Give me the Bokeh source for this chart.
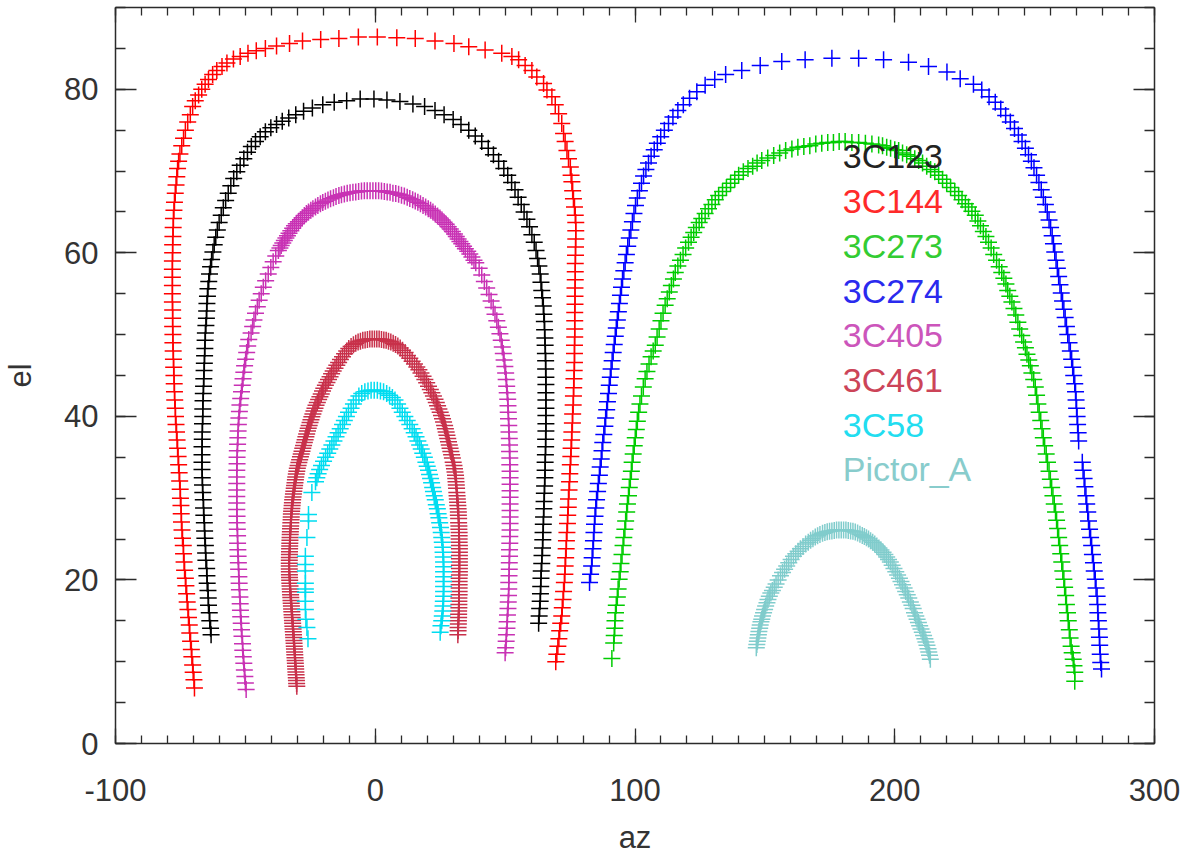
from bokeh.plotting import figure
from bokeh.models import Range1d, LinearAxis, SingleIntervalTicker, CustomJSTickFormatter
from bokeh.embed import file_html
from bokeh.resources import INLINE
from bokeh.core.properties import value

# ---------------- data (az, el) ----------------
names = ["3C123", "3C144", "3C273", "3C274", "3C405", "3C461", "3C58", "Pictor_A"]
marker_colors = ["#000000", "#ff0000", "#00cc00", "#0000ff", "#c832b4", "#c8304a", "#00dcf0", "#80cccc"]
label_colors = ["#222222", "#ff2a2a", "#33cc33", "#2a2aee", "#cc55bb", "#cc4458", "#22ddf0", "#88cccc"]

pts_3C123 = [(-63.2,13.3),(-63.4,14.1),(-63.7,15.0),(-63.9,16.0),(-64.2,16.9),(-64.3,17.8),(-64.4,18.7),(-64.7,19.6),(-64.8,20.5),(-64.9,21.4),(-65.2,22.4),(-65.3,23.3),(-65.4,24.2),(-65.6,25.1),(-65.7,26.0),(-65.8,27.0),(-66.0,27.9),(-66.1,28.8),(-66.2,29.8),(-66.4,30.7),(-66.5,31.6),(-66.6,32.5),(-66.7,33.5),(-66.7,34.4),(-66.7,35.3),(-66.7,36.3),(-66.6,37.2),(-66.6,38.1),(-66.5,39.1),(-66.4,40.0),(-66.4,40.9),(-66.3,41.9),(-66.2,42.8),(-66.1,43.7),(-66.0,44.6),(-65.9,45.6),(-65.8,46.5),(-65.7,47.4),(-65.6,48.3),(-65.5,49.3),(-65.4,50.2),(-65.2,51.1),(-65.0,52.0),(-64.9,52.9),(-64.8,53.8),(-64.6,54.7),(-64.4,55.6),(-64.1,56.5),(-63.8,57.4),(-63.4,58.3),(-63.0,59.2),(-62.5,60.1),(-62.0,61.0),(-61.4,61.9),(-60.8,62.8),(-60.1,63.7),(-59.3,64.6),(-58.5,65.5),(-57.6,66.4),(-56.6,67.3),(-55.6,68.2),(-54.5,69.1),(-53.3,69.9),(-52.0,70.7),(-50.6,71.5),(-49.2,72.3),(-47.7,73.0),(-46.1,73.6),(-44.3,74.2),(-42.3,74.8),(-40.2,75.3),(-38.0,75.7),(-35.8,76.1),(-33.3,76.5),(-30.6,76.9),(-27.6,77.3),(-24.2,77.7),(-20.2,78.1),(-15.8,78.4),(-11.0,78.6),(-5.8,78.8),(-0.5,78.8),(4.5,78.7),(9.5,78.5),(14.5,78.2),(19.0,77.9),(23.0,77.4),(26.5,76.9),(30.0,76.3),(33.0,75.7),(36.0,75.0),(38.5,74.3),(41.0,73.6),(43.5,72.8),(45.5,72.0),(47.5,71.2),(49.5,70.3),(51.0,69.5),(52.5,68.6),(53.8,67.7),(55.0,66.8),(56.2,65.9),(57.3,65.0),(58.4,64.1),(59.4,63.2),(60.3,62.2),(61.2,61.3),(61.9,60.3),(62.5,59.3),(63.0,58.4),(63.5,57.4),(63.8,56.4),(64.1,55.4),(64.4,54.5),(64.7,53.5),(64.9,52.5),(65.1,51.6),(65.2,50.6),(65.3,49.6),(65.4,48.7),(65.5,47.7),(65.6,46.8),(65.6,45.8),(65.7,44.8),(65.7,43.9),(65.7,42.9),(65.7,42.0),(65.7,41.0),(65.7,40.1),(65.7,39.1),(65.7,38.2),(65.6,37.2),(65.6,36.3),(65.5,35.3),(65.4,34.4),(65.4,33.4),(65.3,32.5),(65.2,31.5),(65.1,30.6),(65.0,29.6),(64.9,28.7),(64.8,27.7),(64.7,26.8),(64.6,25.8),(64.5,24.9),(64.4,23.9),(64.2,23.0),(64.1,22.0),(63.9,21.1),(63.8,20.2),(63.7,19.2),(63.6,18.3),(63.5,17.4),(63.3,16.5),(63.1,15.6),(62.9,14.7)]

pts_3C144 = [(-69.6,6.8),(-69.8,7.8),(-70.1,8.7),(-70.3,9.6),(-70.6,10.6),(-70.8,11.5),(-71.1,12.5),(-71.4,13.5),(-71.6,14.5),(-71.9,15.4),(-72.1,16.4),(-72.4,17.3),(-72.6,18.3),(-72.9,19.3),(-73.1,20.2),(-73.4,21.2),(-73.6,22.2),(-73.8,23.2),(-73.9,24.2),(-74.2,25.1),(-74.4,26.1),(-74.6,27.1),(-74.7,28.1),(-74.8,29.1),(-75.0,30.0),(-75.1,31.1),(-75.3,32.1),(-75.5,33.1),(-75.7,34.1),(-75.9,35.1),(-76.1,36.1),(-76.3,37.1),(-76.5,38.1),(-76.7,39.0),(-76.9,40.0),(-77.0,41.0),(-77.2,42.0),(-77.3,43.0),(-77.4,44.0),(-77.5,45.0),(-77.6,46.0),(-77.7,47.0),(-77.8,48.0),(-77.9,49.0),(-77.9,50.0),(-78.0,51.0),(-78.0,52.0),(-78.0,53.0),(-78.1,54.0),(-78.1,55.0),(-78.1,56.0),(-78.1,57.0),(-78.1,58.0),(-78.1,59.0),(-78.0,60.0),(-78.0,61.0),(-77.9,62.0),(-77.8,63.1),(-77.7,64.2),(-77.5,65.2),(-77.3,66.2),(-77.0,67.3),(-76.7,68.3),(-76.4,69.3),(-76.1,70.3),(-75.7,71.2),(-75.2,72.1),(-74.5,73.1),(-73.8,74.0),(-73.1,75.0),(-72.2,76.0),(-71.2,76.9),(-70.3,77.9),(-69.3,78.6),(-68.0,79.3),(-66.8,80.0),(-65.5,80.6),(-64.2,81.2),(-62.6,81.8),(-61.0,82.3),(-59.0,82.8),(-57.1,83.2),(-54.6,83.7),(-52.0,84.0),(-49.0,84.4),(-45.8,84.7),(-42.3,85.0),(-38.0,85.3),(-33.0,85.6),(-28.0,85.9),(-21.0,86.1),(-14.0,86.2),(-6.5,86.4),(0.8,86.4),(8.3,86.3),(15.4,86.2),(23.0,85.9),(30.3,85.6),(36.0,85.2),(42.3,84.8),(48.7,84.4),(52.6,84.0),(55.2,83.6),(57.7,82.9),(60.3,82.3),(62.2,81.5),(64.8,80.7),(66.1,79.9),(68.0,79.1),(69.3,78.1),(70.6,77.0),(71.8,75.8),(72.5,74.6),(73.1,73.6),(73.8,72.5),(74.4,71.5),(75.1,70.5),(75.4,69.5),(75.7,68.7),(76.0,67.6),(76.3,66.6),(76.7,65.6),(77.0,64.6),(77.2,63.7),(77.2,62.7),(77.2,61.7),(77.1,60.7),(77.1,59.7),(77.0,58.7),(77.0,57.7),(77.0,56.7),(76.9,55.7),(76.9,54.7),(76.9,53.7),(76.8,52.7),(76.8,51.7),(76.8,50.7),(76.8,49.7),(76.7,48.7),(76.7,47.7),(76.7,46.6),(76.6,45.6),(76.5,44.6),(76.4,43.5),(76.3,42.5),(76.2,41.4),(76.0,40.3),(75.9,39.2),(75.7,38.1),(75.6,37.1),(75.4,36.1),(75.3,35.1),(75.1,34.1),(74.9,33.0),(74.8,32.0),(74.6,31.0),(74.4,29.9),(74.3,28.9),(74.1,27.9),(74.0,26.9),(73.8,25.8),(73.6,24.8),(73.5,23.8),(73.3,22.7),(73.1,21.7),(73.0,20.7),(72.8,19.7),(72.5,18.6),(72.3,17.6),(72.0,16.6),(71.8,15.6),(71.4,14.7),(71.0,13.8),(70.7,12.8),(70.3,11.9),(69.9,10.9),(69.5,10.0)]

pts_3C273 = [(91.1,10.4),(91.8,12.3),(92.0,13.2),(92.2,14.1),(92.3,15.0),(92.5,16.0),(92.8,16.9),(93.2,17.9),(93.5,18.9),(93.9,20.1),(94.3,21.0),(94.6,22.0),(95.0,23.1),(95.4,24.2),(95.7,25.2),(96.1,26.2),(96.4,27.2),(96.8,28.3),(97.1,29.3),(97.5,30.3),(97.8,31.3),(98.2,32.3),(98.6,33.3),(98.9,34.4),(99.3,35.4),(99.7,36.4),(100.1,37.4),(100.5,38.4),(100.9,39.4),(101.4,40.5),(101.9,41.5),(102.5,42.5),(103.2,43.6),(103.9,44.6),(104.6,45.5),(105.4,46.4),(106.2,47.3),(107.0,48.0),(107.8,48.7),(108.5,49.7),(109.3,50.7),(110.0,51.7),(110.8,52.6),(111.6,53.6),(112.4,54.4),(113.2,55.2),(114.0,56.0),(114.8,56.8),(115.5,57.6),(116.5,58.4),(117.5,59.1),(118.5,59.8),(119.5,60.6),(120.6,61.3),(121.6,61.9),(122.6,62.5),(123.6,63.1),(124.7,63.7),(125.7,64.2),(127.0,64.8),(128.3,65.4),(129.6,65.9),(130.9,66.5),(132.2,67.0),(133.7,67.5),(135.2,68.0),(136.8,68.5),(138.4,69.0),(139.9,69.5),(141.7,69.9),(143.5,70.3),(145.3,70.6),(147.0,71.0),(148.8,71.3),(151.1,71.6),(153.4,71.9),(155.7,72.2),(158.0,72.5),(160.4,72.7),(162.7,72.9),(165.0,73.0),(167.3,73.1),(169.6,73.3),(171.9,73.4),(174.2,73.5),(176.4,73.5),(178.6,73.6),(180.9,73.6),(183.5,73.5),(186.1,73.5),(188.7,73.4),(191.2,73.3),(193.8,73.2),(195.3,73.1),(196.9,72.9),(198.4,72.8),(200.0,72.6),(201.5,72.5),(203.0,72.2),(204.6,72.0),(206.1,71.8),(207.7,71.5),(209.2,71.3),(210.7,71.0),(212.3,70.6),(213.8,70.2),(215.4,69.9),(216.9,69.5),(218.4,69.0),(220.0,68.5),(221.5,68.0),(223.1,67.5),(224.6,67.0),(225.9,66.5),(227.2,66.0),(228.4,65.6),(229.7,65.1),(231.0,64.6),(232.0,63.9),(233.0,63.3),(234.1,62.6),(235.1,62.0),(236.1,61.3),(237.1,60.6),(238.1,59.8),(239.2,59.1),(240.2,58.3),(241.2,57.6),(242.0,56.9),(242.8,56.2),(243.5,55.4),(244.3,54.7),(245.1,54.0),(245.9,53.2),(246.6,52.4),(247.4,51.5),(248.1,50.7),(248.9,49.9),(249.6,49.1),(250.3,48.4),(250.9,47.6),(251.6,46.9),(252.2,46.2),(252.8,45.3),(253.5,44.5),(254.1,43.6),(254.6,42.6),(255.1,41.5),(255.6,40.5),(256.2,39.5),(256.7,38.5),(257.2,37.4),(257.7,36.4),(258.3,35.4),(258.8,34.4),(259.4,33.3),(259.9,32.3),(260.4,31.3),(260.9,30.3),(261.4,29.3),(261.9,28.3),(262.3,27.3),(262.7,26.3),(263.1,25.2),(263.5,24.2),(263.9,23.2),(264.3,22.2),(264.7,21.1),(265.1,20.1),(265.4,19.1),(265.8,18.1),(266.1,17.0),(266.5,16.0),(266.8,15.0),(267.2,13.9),(267.5,12.9),(267.9,11.9),(268.3,11.1),(268.7,10.3),(269.0,9.5),(269.3,8.7),(269.3,7.6)]

pts_3C274 = [(82.5,19.7),(82.9,20.7),(83.3,21.7),(83.5,22.7),(83.8,23.8),(84.0,24.8),(84.2,25.8),(84.4,26.8),(84.6,27.8),(84.9,28.8),(85.2,29.8),(85.6,30.8),(85.9,31.8),(86.3,32.8),(86.6,33.8),(87.0,34.8),(87.3,35.8),(87.6,36.8),(88.0,37.8),(88.4,38.8),(88.7,39.8),(89.1,40.8),(89.4,41.8),(89.8,42.8),(90.1,43.8),(90.5,44.8),(90.8,45.8),(91.2,46.8),(91.6,47.8),(92.0,48.8),(92.4,49.8),(92.8,50.8),(93.2,51.8),(93.6,52.8),(94.0,53.8),(94.4,54.8),(94.8,55.8),(95.2,56.8),(95.7,57.8),(96.2,58.8),(96.7,59.8),(97.2,60.8),(97.8,61.8),(98.4,62.8),(99.0,63.8),(99.6,64.8),(100.2,65.8),(100.9,66.7),(101.7,67.6),(102.5,68.5),(103.3,69.4),(104.2,70.2),(105.2,71.0),(106.2,71.8),(107.4,72.6),(108.6,73.4),(109.9,74.2),(111.3,75.0),(112.9,75.8),(114.6,76.6),(116.5,77.4),(118.6,78.1),(121.0,78.9),(123.8,79.7),(127.0,80.5),(130.7,81.2),(134.9,81.8),(141.1,82.3),(148.2,82.9),(156.5,83.4),(165.5,83.6),(175.8,83.8),(186.1,83.8),(195.7,83.6),(205.3,83.3),(213.0,82.8),(220.1,82.1),(225.2,81.3),(230.3,80.6),(233.5,79.9),(236.3,79.1),(238.7,78.4),(240.8,77.6),(242.7,76.8),(244.5,76.0),(246.1,75.2),(247.6,74.4),(249.0,73.6),(250.3,72.8),(251.5,72.0),(252.6,71.2),(253.6,70.4),(254.6,69.5),(255.5,68.6),(256.4,67.7),(257.2,66.8),(258.0,65.9),(258.7,65.0),(259.4,64.0),(260.0,63.1),(260.6,62.1),(261.1,61.1),(261.6,60.1),(262.1,59.1),(262.6,58.1),(263.1,57.1),(263.6,56.1),(264.1,55.1),(264.6,54.1),(265.1,53.1),(265.6,52.1),(266.1,51.0),(266.6,50.0),(267.1,49.0),(267.6,48.0),(268.1,47.0),(268.5,46.0),(268.9,45.0),(269.3,44.0),(269.6,43.0),(269.8,42.0),(270.0,41.0),(270.2,40.0),(270.4,39.0),(270.6,38.0),(270.8,37.0),(272.2,34.4),(272.5,33.4),(272.9,32.4),(273.2,31.4),(273.6,30.3),(273.9,29.3),(274.3,28.3),(274.6,27.2),(275.0,26.2),(275.4,25.2),(275.8,24.2),(276.1,23.1),(276.5,22.1),(276.8,21.1),(277.2,20.1),(277.5,19.0),(277.9,18.0),(278.1,17.0),(278.2,16.0),(278.4,15.0),(278.6,14.0),(278.8,13.0),(278.9,12.0),(279.1,10.9),(279.3,9.9),(279.6,9.1)]

pts_3C405 = [(-49.7,6.6),(-50.0,7.4),(-50.2,8.2),(-50.4,9.0),(-50.6,9.8),(-50.8,10.6),(-51.0,11.4),(-51.1,12.2),(-51.3,13.1),(-51.5,13.9),(-51.6,14.7),(-51.8,15.5),(-51.9,16.3),(-52.0,17.1),(-52.1,17.9),(-52.3,18.8),(-52.4,19.6),(-52.5,20.4),(-52.6,21.3),(-52.7,22.1),(-52.8,22.9),(-52.9,23.7),(-53.0,24.5),(-53.0,25.4),(-53.1,26.2),(-53.2,27.0),(-53.2,27.8),(-53.3,28.6),(-53.3,29.4),(-53.3,30.2),(-53.3,31.0),(-53.3,31.8),(-53.3,32.6),(-53.3,33.4),(-53.2,34.2),(-53.2,35.0),(-53.1,35.8),(-53.0,36.6),(-52.9,37.4),(-52.8,38.2),(-52.7,39.0),(-52.5,39.8),(-52.3,40.6),(-52.1,41.4),(-51.8,42.2),(-51.5,43.0),(-51.2,43.8),(-50.9,44.6),(-50.6,45.4),(-50.3,46.2),(-49.9,47.0),(-49.5,47.8),(-49.1,48.6),(-48.7,49.4),(-47.8,50.2),(-47.2,51.0),(-46.7,51.8),(-46.1,52.6),(-45.4,53.4),(-44.7,54.2),(-43.9,55.0),(-43.1,55.8),(-42.2,56.6),(-41.2,57.4),(-40.2,58.2),(-39.3,58.9),(-38.3,59.6),(-37.3,60.3),(-36.7,60.6),(-36.2,60.9),(-35.6,61.2),(-35.0,61.5),(-34.4,61.8),(-33.8,62.1),(-33.2,62.4),(-32.5,62.7),(-31.8,63.0),(-31.1,63.3),(-30.4,63.55),(-29.6,63.8),(-28.8,64.05),(-28.1,64.3),(-27.3,64.55),(-26.5,64.8),(-25.7,65.0),(-24.8,65.2),(-24.0,65.4),(-23.0,65.6),(-22.1,65.8),(-21.1,66.0),(-20.2,66.15),(-19.2,66.3),(-18.2,66.45),(-17.2,66.6),(-16.1,66.75),(-15.1,66.9),(-14.0,67.0),(-13.0,67.1),(-11.9,67.2),(-10.8,67.3),(-9.7,67.35),(-8.6,67.4),(-7.5,67.45),(-6.4,67.5),(-5.3,67.55),(-4.2,67.6),(-3.1,67.6),(-2.0,67.6),(-0.9,67.6),(0.2,67.6),(1.3,67.6),(2.4,67.55),(3.5,67.5),(4.6,67.45),(5.7,67.4),(6.8,67.3),(7.9,67.25),(9.0,67.15),(10.1,67.05),(11.2,66.95),(12.3,66.8),(13.3,66.65),(14.4,66.5),(15.4,66.35),(16.4,66.2),(17.4,66.0),(18.4,65.8),(19.4,65.6),(20.4,65.4),(21.3,65.2),(22.2,65.0),(23.1,64.75),(24.0,64.5),(24.9,64.25),(25.7,64.0),(26.5,63.75),(27.3,63.5),(28.1,63.2),(28.9,62.9),(29.7,62.6),(30.5,62.3),(31.2,62.0),(31.9,61.7),(32.6,61.4),(33.3,61.1),(34.0,60.8),(34.7,60.5),(35.6,60.2),(36.4,59.85),(37.2,59.5),(38.0,59.1),(38.7,58.8),(40.0,58.1),(41.0,57.3),(42.0,56.5),(42.9,55.7),(43.8,54.9),(44.6,54.1),(45.4,53.3),(46.1,52.5),(46.8,51.7),(47.4,50.9),(48.0,50.1),(48.5,49.3),(48.9,48.5),(49.3,47.7),(49.6,46.9),(49.9,46.1),(50.2,45.3),(50.4,44.5),(50.6,43.7),(50.8,42.9),(51.0,42.1),(51.1,41.3),(51.2,40.5),(51.3,39.7),(51.4,38.9),(51.5,38.1),(51.6,37.3),(51.7,36.5),(51.7,35.7),(51.8,34.9),(51.8,34.1),(51.9,33.3),(51.9,32.5),(51.9,31.7),(51.9,30.9),(51.9,30.1),(51.9,29.3),(51.9,28.5),(51.9,27.7),(51.9,26.9),(51.9,26.1),(51.8,25.3),(51.8,24.5),(51.7,23.7),(51.7,22.9),(51.6,22.1),(51.6,21.3),(51.5,20.5),(51.4,19.7),(51.4,18.9),(51.3,18.1),(51.2,17.3),(51.1,16.5),(50.9,15.7),(50.8,14.9),(50.7,14.1),(50.5,13.3),(50.4,12.5),(50.2,11.7),(50.0,11.1)]

pts_3C461 = [(-30.2,7.0),(-30.27,7.35),(-30.34,7.7),(-30.41,8.05),(-30.48,8.4),(-30.55,8.75),(-30.62,9.1),(-30.69,9.45),(-30.76,9.8),(-30.83,10.15),(-30.9,10.5),(-30.97,10.85),(-31.04,11.2),(-31.11,11.55),(-31.18,11.9),(-31.25,12.25),(-31.33,12.6),(-31.41,12.95),(-31.48,13.3),(-31.56,13.65),(-31.64,14.0),(-31.72,14.35),(-31.8,14.7),(-31.88,15.05),(-31.96,15.4),(-32.04,15.75),(-32.12,16.1),(-32.2,16.45),(-32.28,16.8),(-32.36,17.15),(-32.44,17.5),(-32.52,17.85),(-32.6,18.2),(-32.67,18.55),(-32.74,18.9),(-32.81,19.25),(-32.88,19.6),(-32.94,19.95),(-33.0,20.3),(-33.04,20.65),(-33.07,21.0),(-33.09,21.35),(-33.1,21.7),(-33.1,22.05),(-33.09,22.4),(-33.07,22.75),(-33.04,23.1),(-33.01,23.45),(-32.97,23.8),(-32.93,24.15),(-32.89,24.5),(-32.84,24.85),(-32.79,25.2),(-32.74,25.55),(-32.68,25.9),(-32.62,26.25),(-32.56,26.6),(-32.5,27.0),(-32.4,27.35),(-32.35,27.7),(-32.3,28.05),(-32.2,28.4),(-32.1,28.75),(-32.0,29.1),(-31.9,29.45),(-31.8,29.8),(-31.65,30.15),(-31.5,30.5),(-31.35,30.85),(-31.2,31.2),(-31.05,31.55),(-30.9,31.9),(-30.75,32.25),(-30.6,32.6),(-30.4,32.95),(-30.2,33.3),(-30.0,33.65),(-29.7,34.0),(-29.4,34.35),(-29.1,34.7),(-28.8,35.05),(-28.5,35.4),(-28.2,35.75),(-27.9,36.1),(-27.6,36.45),(-27.3,36.8),(-27.0,37.15),(-26.7,37.5),(-26.4,37.85),(-26.1,38.2),(-25.8,38.55),(-25.45,38.9),(-25.1,39.25),(-24.75,39.6),(-24.4,39.95),(-24.0,40.3),(-23.6,40.65),(-23.2,41.0),(-22.8,41.35),(-22.3,41.7),(-21.8,42.05),(-21.3,42.4),(-20.8,42.75),(-20.3,43.1),(-19.8,43.45),(-19.2,43.8),(-18.6,44.15),(-18.0,44.5),(-17.4,44.85),(-16.8,45.2),(-16.2,45.55),(-15.5,45.9),(-14.8,46.25),(-14.1,46.6),(-13.4,46.95),(-12.6,47.3),(-11.8,47.65),(-11.0,48.0),(-10.2,48.3),(-9.3,48.55),(-8.4,48.75),(-7.5,48.95),(-6.6,49.1),(-5.7,49.2),(-4.8,49.3),(-3.9,49.35),(-3.0,49.4),(-2.1,49.45),(-1.2,49.45),(-0.3,49.45),(0.6,49.45),(1.5,49.45),(2.4,49.4),(3.3,49.35),(4.2,49.3),(5.1,49.2),(6.0,49.1),(6.9,48.95),(7.8,48.8),(8.7,48.6),(9.6,48.35),(10.5,48.1),(11.5,47.8),(12.4,47.45),(13.3,47.1),(14.2,46.75),(15.1,46.4),(16.0,46.05),(16.8,45.7),(17.6,45.3),(18.4,44.9),(19.1,44.5),(19.8,44.1),(20.5,43.7),(21.2,43.3),(21.8,42.9),(22.4,42.5),(23.0,42.1),(23.5,41.7),(24.0,41.3),(24.5,40.9),(25.0,40.5),(25.5,40.1),(25.9,39.7),(26.3,39.3),(26.7,38.9),(27.0,38.5),(27.3,38.1),(27.6,37.7),(27.9,37.3),(28.2,36.9),(28.5,36.5),(28.8,36.1),(29.1,35.7),(29.4,35.3),(29.7,34.9),(30.0,34.4),(30.3,34.0),(30.5,33.6),(30.7,33.2),(30.9,32.8),(31.0,32.4),(31.1,32.0),(31.2,31.6),(31.3,31.2),(31.4,30.7),(31.5,30.3),(31.6,29.9),(31.7,29.5),(31.8,29.1),(31.9,28.7),(32.0,28.3),(32.0,27.9),(32.1,27.5),(32.1,27.0),(32.2,26.6),(32.2,26.2),(32.3,25.8),(32.3,25.4),(32.3,25.0),(32.3,24.6),(32.4,24.2),(32.4,23.8),(32.4,23.4),(32.4,23.0),(32.4,22.6),(32.4,22.2),(32.4,21.8),(32.4,21.4),(32.4,21.0),(32.4,20.6),(32.3,20.2),(32.3,19.8),(32.3,19.4),(32.3,19.0),(32.3,18.6),(32.3,18.2),(32.2,17.8),(32.2,17.4),(32.2,17.0),(32.2,16.6),(32.1,16.2),(32.1,15.8),(32.1,15.4),(32.0,15.0),(32.0,14.6),(31.9,14.2),(31.9,13.8),(31.8,13.3)]

pts_3C58 = [(-25.9,12.8),(-26.3,14.2),(-26.7,15.2),(-26.9,16.4),(-26.9,17.4),(-26.9,18.5),(-26.9,18.9),(-26.9,19.6),(-26.9,21.1),(-26.9,21.9),(-26.9,22.9),(-26.3,25.2),(-25.7,27.2),(-25.7,28.0),(-24.4,30.7),(-23.0,32.0),(-22.5,32.5),(-22.0,33.0),(-21.4,33.5),(-20.7,34.0),(-19.9,34.5),(-19.1,35.0),(-18.3,35.5),(-17.5,36.0),(-16.7,36.5),(-15.9,37.0),(-15.1,37.5),(-14.3,38.0),(-13.5,38.5),(-12.6,39.0),(-11.9,39.5),(-11.1,40.0),(-10.3,40.5),(-9.3,41.0),(-8.4,41.5),(-7.4,42.0),(-6.3,42.5),(-5.2,42.8),(-4.0,43.0),(-2.8,43.1),(-1.6,43.2),(-0.4,43.2),(0.8,43.2),(2.0,43.1),(3.2,43.0),(4.4,42.8),(5.5,42.6),(6.6,42.3),(7.6,42.0),(8.6,41.5),(9.5,41.0),(10.4,40.5),(11.4,40.0),(12.3,39.5),(13.3,39.0),(14.2,38.5),(15.0,38.0),(15.7,37.5),(16.4,37.0),(17.1,36.5),(17.7,36.0),(18.3,35.5),(18.9,35.0),(19.5,34.4),(20.0,33.9),(20.5,33.4),(20.9,32.9),(21.3,32.4),(21.7,31.9),(22.1,31.3),(22.4,30.8),(22.7,30.3),(23.1,29.8),(23.5,29.2),(23.9,28.7),(24.2,28.1),(24.5,27.6),(24.8,27.0),(25.1,26.4),(25.4,25.8),(25.6,25.2),(25.8,24.6),(26.0,24.0),(26.1,23.4),(26.2,22.8),(26.3,22.2),(26.3,21.6),(26.3,21.0),(26.3,20.4),(26.3,19.8),(26.3,19.2),(26.3,18.6),(26.3,18.0),(26.2,17.4),(26.1,16.8),(26.0,16.2),(25.8,15.6),(25.6,15.0),(25.3,14.4),(25.0,13.6)]

pts_Pictor_A = [(146.7,11.7),(146.9,12.1),(147.1,12.5),(147.3,12.9),(147.5,13.3),(147.7,13.7),(148.0,14.1),(148.2,14.5),(148.5,14.9),(148.8,15.2),(149.1,15.6),(149.5,16.0),(149.9,16.4),(150.3,16.8),(150.8,17.2),(151.2,17.6),(151.7,18.0),(152.3,18.4),(152.9,18.7),(153.6,19.1),(154.3,19.5),(155.1,20.0),(156.0,20.5),(156.8,20.9),(157.6,21.3),(158.4,21.7),(159.2,22.1),(160.1,22.5),(161.0,22.9),(161.9,23.2),(162.8,23.5),(163.7,23.8),(164.7,24.1),(165.7,24.4),(166.7,24.6),(167.6,24.85),(168.5,25.05),(169.4,25.25),(170.3,25.4),(171.2,25.55),(172.2,25.7),(173.1,25.8),(174.0,25.9),(174.9,25.95),(175.8,26.0),(176.7,26.05),(177.6,26.1),(178.5,26.1),(179.4,26.1),(180.3,26.1),(181.2,26.1),(182.1,26.05),(183.0,26.0),(183.9,25.95),(184.8,25.85),(185.7,25.75),(186.6,25.6),(187.5,25.45),(188.3,25.3),(189.1,25.15),(189.9,25.0),(190.7,24.8),(191.5,24.6),(192.3,24.4),(193.1,24.15),(193.9,23.9),(194.7,23.65),(195.5,23.4),(196.2,23.1),(196.9,22.8),(197.6,22.5),(198.3,22.2),(199.0,21.8),(199.7,21.4),(200.4,21.0),(201.1,20.6),(201.8,20.2),(202.4,19.8),(203.0,19.4),(203.6,19.0),(204.2,18.6),(204.8,18.2),(205.4,17.8),(206.0,17.3),(206.6,16.9),(207.1,16.5),(207.6,16.0),(208.1,15.6),(208.6,15.2),(209.1,14.8),(209.6,14.4),(210.1,14.0),(210.6,13.6),(211.1,13.2),(211.6,12.8),(212.0,12.4),(212.4,12.0),(212.8,11.6),(213.1,11.2),(213.4,10.8),(213.7,10.3)]

series_points = [pts_3C123, pts_3C144, pts_3C273, pts_3C274, pts_3C405, pts_3C461, pts_3C58, pts_Pictor_A]

# ---------------- figure ----------------
FONT = "Liberation Sans"
AX_COLOR = "#2b2b2b"
TXT_COLOR = "#333333"

p = figure(frame_width=1039, frame_height=736,
           x_range=Range1d(-100, 300), y_range=Range1d(0, 90),
           output_backend="svg", toolbar_location=None,
           min_border_left=114, min_border_right=30, min_border_top=7, min_border_bottom=100)
p.xgrid.visible = False
p.ygrid.visible = False
p.outline_line_color = None
p.background_fill_color = "white"
p.border_fill_color = "white"

def style_axis(ax, major_in, minor_in, show_labels):
    ax.axis_line_color = AX_COLOR
    ax.axis_line_width = 1.5
    ax.major_tick_line_color = AX_COLOR
    ax.minor_tick_line_color = AX_COLOR
    ax.major_tick_line_width = 1.3
    ax.minor_tick_line_width = 1.3
    ax.major_tick_in = major_in
    ax.major_tick_out = 0
    ax.minor_tick_in = minor_in
    ax.minor_tick_out = 0
    if show_labels:
        ax.major_label_text_font = FONT
        ax.major_label_text_font_size = "31px"
        ax.major_label_text_color = TXT_COLOR
        ax.axis_label_text_font = FONT
        ax.axis_label_text_font_size = "31px"
        ax.axis_label_text_font_style = "normal"
        ax.axis_label_text_color = TXT_COLOR
        ax.formatter = CustomJSTickFormatter(code="return tick.toString();")
    else:
        ax.major_label_text_font_size = "0px"
        ax.major_label_standoff = 0
        ax.formatter = CustomJSTickFormatter(code="return '';")

p.xaxis.ticker = SingleIntervalTicker(interval=100, num_minor_ticks=10)
p.yaxis.ticker = SingleIntervalTicker(interval=20, num_minor_ticks=4)
p.xaxis.axis_label = "az"
p.yaxis.axis_label = "el"
style_axis(p.xaxis[0], 15, 8, True)
style_axis(p.yaxis[0], 21, 10, True)
p.xaxis.major_label_standoff = 35
p.xaxis.axis_label_standoff = 16
p.yaxis.major_label_standoff = 17
p.yaxis.axis_label_standoff = 23

top_ax = LinearAxis(ticker=SingleIntervalTicker(interval=100, num_minor_ticks=10))
right_ax = LinearAxis(ticker=SingleIntervalTicker(interval=20, num_minor_ticks=4))
style_axis(top_ax, 15, 8, False)
style_axis(right_ax, 21, 10, False)
p.add_layout(top_ax, "above")
p.add_layout(right_ax, "right")

for pts, col in zip(series_points, marker_colors):
    az = [a for a, e in pts]
    el = [e for a, e in pts]
    p.scatter(az, el, marker="cross", size=17, line_color=col, line_width=1.5)

# legend-like labels, stacked downwards from the first entry
legend_x = [180] * len(names)
legend_y = [71.8 - 5.47 * i for i in range(len(names))]
p.text(x=legend_x, y=legend_y, text=names, text_color=label_colors,
       text_font=value(FONT), text_font_size="34px",
       text_baseline="alphabetic", text_align="left")

open("out.html", "w").write(file_html(p, INLINE))
